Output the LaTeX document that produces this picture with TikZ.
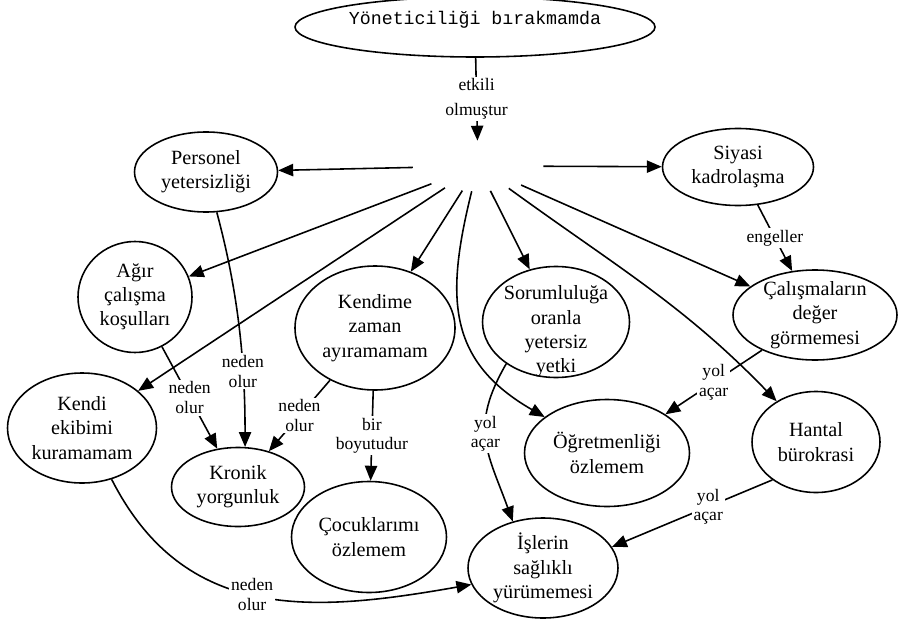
\documentclass[tikz,border=0pt]{standalone}
\usepackage{fontspec}
\setmainfont{Liberation Serif}
\newfontfamily\courierfont{Liberation Mono}
\usetikzlibrary{shapes.geometric, arrows.meta}

\begin{document}
\begin{tikzpicture}[
        x=0.02cm, y=-0.02cm,
        concept/.style={draw, ellipse, line width=0.9pt, align=center, inner xsep=-1pt, inner ysep=-6pt, font=\fontsize{11.5}{13.8}\selectfont},
        dims/.style 2 args={minimum width=#1*0.02cm, minimum height=#2*0.02cm},
        hidden/.style={ellipse, inner sep=0pt},
        tag/.style={fill=white, inner sep=1pt, align=center, font=\fontsize{10}{11.2}\selectfont},
        arrow/.style={-{Triangle[length=8.5pt, width=7pt]}, line width=0.9pt}
      ]
    \useasboundingbox (0,0) rectangle (898,618);

    \node (top) [concept, dims={360}{60}, inner ysep=0pt, text depth=10pt, font=\courierfont\fontsize{10.4}{12}\selectfont] at (475,27) {Yöneticiliği bırakmamda};
    \node (hub) [hidden, dims={130}{50}] at (478,166) {};
    \node (pers) [concept, dims={143}{80}] at (206,172) {Personel\\yetersizliği};
    \node (siyasi) [concept, dims={151}{77}] at (738,167) {Siyasi\\kadrolaşma};
    \node (agir) [concept, dims={114}{111}] at (135,297) {Ağır\\çalışma\\koşulları};
    \node (kendime) [concept, dims={160}{124}] at (375,328) {Kendime\\zaman\\ayıramamam};
    \node (soru) [concept, dims={147}{111}, text height=60pt, inner ysep=-12pt] at (556,322) {Sorumluluğa\\oranla\\yetersiz\\yetki};
    \node (calis) [concept, dims={164}{90}] at (815,315) {Çalışmaların\\değer\\görmemesi};
    \node (ekip) [concept, dims={149}{110}] at (82,428) {Kendi\\ekibimi\\kuramamam};
    \node (kronik) [concept, dims={133}{79}] at (238,487) {Kronik\\yorgunluk};
    \node (cocuk) [concept, dims={155}{111}] at (369,537) {Çocuklarımı\\özlemem};
    \node (ogret) [concept, dims={165}{107}] at (607,453) {Öğretmenliği\\özlemem};
    \node (hantal) [concept, dims={128}{101}] at (816,442) {Hantal\\bürokrasi};
    \node (isler) [concept, dims={150}{100}] at (543,568) {İşlerin\\sağlıklı\\yürümemesi};

    \draw[arrow] (top) -- node[tag] {etkili\\[3pt]olmuştur} (hub);
    \draw[arrow] (hub) -- (pers);
    \draw[arrow] (hub) -- (siyasi);
    \draw[arrow] (hub) -- (agir);
    \draw[arrow] (hub) -- (ekip);
    \draw[arrow] (hub) -- (kendime);
    \draw[arrow] (hub) -- (soru);
    \draw[arrow] (hub) -- (calis);
    \draw[arrow] (hub.-104) to[out=-104, in=150, looseness=1.2] (ogret.150);
    \draw[arrow] (hub) to[out=-36, in=134] (hantal);
    \draw[arrow] (siyasi) -- node[tag] {engeller} (calis);
    \draw[arrow] (pers.-75) .. controls +(-75:1.6cm) and +(90:1.8cm) .. node[tag, pos=0.7] {neden\\olur} (kronik.80);
    \draw[arrow] (agir) -- node[tag] {neden\\olur} (kronik);
    \draw[arrow] (kendime) -- node[tag] {neden\\olur} (kronik);
    \draw[arrow] (kendime) -- node[tag] {bir\\boyutudur} (cocuk);
    \draw[arrow] (calis) -- node[tag] {yol\\açar} (ogret);
    \draw[arrow] (soru.-140) to[out=-120, in=110, looseness=1.2] node[tag, pos=0.45] {yol\\açar} (isler.123);
    \draw[arrow] (hantal.-139) -- node[tag, pos=0.4] {yol\\açar} (isler.17);
    \draw[arrow] (ekip.-60) to[out=-63, in=190, looseness=1.1] node[tag, pos=0.48] {neden\\olur} (isler.-167);

    \end{tikzpicture}
\end{document}
